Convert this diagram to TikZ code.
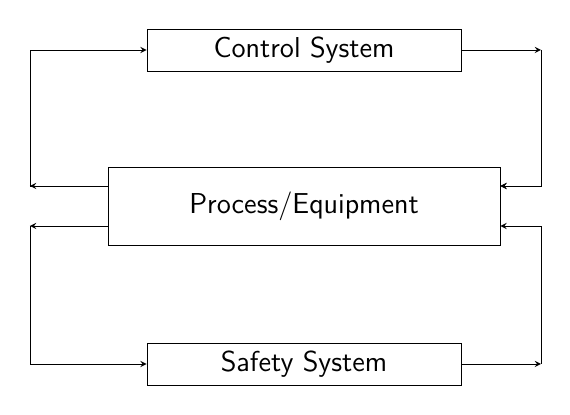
\documentclass[tikz,border=0pt]{standalone}
\usepackage{tikz}
\usetikzlibrary{arrows}

\tikzset{block/.style={draw, rectangle, font=\sffamily\Large, inner sep=0pt},
         small/.style={block, minimum width=157pt, minimum height=21pt}}

\begin{document}
\begin{tikzpicture}[x=0.5pt, y=-0.5pt, >=stealth]
        \useasboundingbox (0,0) rectangle (570,415);

        \node[small] (ctrl) at (304,50) {Control System};
        \node[block, minimum width=196pt, minimum height=39pt] (proc) at (304,206) {Process/Equipment};
        \node[small] (safe) at (304,364) {Safety System};

        \coordinate (lu) at (30,186);
        \coordinate (ld) at (30,226);
        \coordinate (ru) at (541,50);
        \coordinate (rm) at (541,186);
        \coordinate (rd) at (541,364);

        % upper loop
        \draw[->] ([yshift=10pt]proc.west) -- (lu);
        \draw[->] ([yshift=10pt]proc.west) -- (lu) |- (ctrl.west);
        \draw[->] (ctrl.east) -- (ru);
        \draw[->] (ru) |- ([yshift=10pt]proc.east);
        \draw[->] (rm) -- ([yshift=10pt]proc.east);

        % lower loop
        \draw[->] ([yshift=-10pt]proc.west) -- (ld);
        \draw[->] (ld) |- (safe.west);
        \draw[->] (safe.east) -- (rd);
        \draw[->] (rd) |- ([yshift=-10pt]proc.east);
    \end{tikzpicture}
\end{document}
